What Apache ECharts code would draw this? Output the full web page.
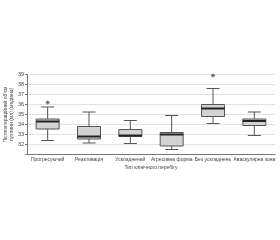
<!DOCTYPE html>
<html><head><meta charset="utf-8">
<script src="https://cdn.jsdelivr.net/npm/echarts@6/dist/echarts.min.js"></script>
<style>html,body{margin:0;padding:0;background:#fff}#c{width:280px;height:240px}</style>
</head><body><div id="c"></div>
<script>
var categories = ['Прогресуючий','Реактивація','Ускладнений','Агресивна форма','Без ускладнень','Аваскулярна зона'];
var lowWhisker = [32.4, 32.15, 32.1, 31.5, 34.1, 32.9];
var q1 =         [33.55, 32.55, 32.8, 31.85, 34.8, 33.9];
var medians =    [34.3, 32.8, 32.9, 33.0, 35.6, 34.35];
var q3 =         [34.55, 33.8, 33.5, 33.2, 36.0, 34.55];
var highWhisker =[35.75, 35.25, 34.4, 34.9, 37.6, 35.25];
var outliers = [[0, 36.2], [4, 38.9]];
var yTicks = [32, 33, 34, 35, 36, 37, 38, 39];

var boxData = categories.map(function(c, i){ return [i, lowWhisker[i], q1[i], medians[i], q3[i], highWhisker[i]]; });

var chart = echarts.init(document.getElementById('c'), null, {renderer:'canvas'});
var font = '"Liberation Sans", Arial, sans-serif';
chart.setOption({
  animation: false,
  grid: {left: 27, right: 5, top: 74.5, bottom: 85.5, containLabel: false, outerBoundsMode: 'none'},
  xAxis: {
    type: 'category', data: categories,
    name: 'Тип клінічного перебігу', nameLocation: 'middle', nameGap: 11, nameMoveOverlap: false,
    nameTextStyle: {fontSize: 5, color: '#444', fontFamily: font},
    axisLine: {lineStyle: {color: '#777', width: 1}},
    axisTick: {alignWithLabel: true, length: 2, lineStyle: {color: '#777'}},
    axisLabel: {fontSize: 5, color: '#444', fontFamily: font, margin: 3, interval: 0, hideOverlap: false},
    splitLine: {show: false}
  },
  yAxis: {
    type: 'value', min: 31, max: 39, interval: 1,
    name: 'Післяопераційний об\'єм\nпухлини (мл) (медіана)', nameLocation: 'middle', nameGap: 12, nameRotate: 90, nameMoveOverlap: false,
    nameTextStyle: {fontSize: 5, color: '#444', fontFamily: font, lineHeight: 6},
    axisLine: {show: true, lineStyle: {color: '#777', width: 1}},
    axisTick: {show: true, length: 2, lineStyle: {color: '#777'}},
    axisLabel: {fontSize: 5.5, color: '#444', fontFamily: font, margin: 3,
      formatter: function(v){ return yTicks.indexOf(v) >= 0 ? String(v) : ''; }},
    splitLine: {show: true, lineStyle: {color: '#e2e2e2', width: 1}}
  },
  series: [{
    type: 'custom',
    data: boxData,
    renderItem: function(params, api){
      var x = api.value(0);
      var pLow = api.coord([x, api.value(1)]);
      var pQ1 = api.coord([x, api.value(2)]);
      var pMed = api.coord([x, api.value(3)]);
      var pQ3 = api.coord([x, api.value(4)]);
      var pHigh = api.coord([x, api.value(5)]);
      var cx = pLow[0];
      var bw = 23, cw = 13;
      var stroke = {stroke: '#555', lineWidth: 1, fill: null};
      return {type: 'group', children: [
        {type: 'line', shape: {x1: cx, y1: pHigh[1], x2: cx, y2: pQ3[1]}, style: stroke},
        {type: 'line', shape: {x1: cx, y1: pQ1[1], x2: cx, y2: pLow[1]}, style: stroke},
        {type: 'line', shape: {x1: cx - cw/2, y1: pHigh[1], x2: cx + cw/2, y2: pHigh[1]}, style: stroke},
        {type: 'line', shape: {x1: cx - cw/2, y1: pLow[1], x2: cx + cw/2, y2: pLow[1]}, style: stroke},
        {type: 'rect', shape: {x: cx - bw/2, y: pQ3[1], width: bw, height: pQ1[1] - pQ3[1]},
          style: {fill: '#d3d3d3', stroke: '#555', lineWidth: 1}},
        {type: 'line', shape: {x1: cx - bw/2, y1: pMed[1], x2: cx + bw/2, y2: pMed[1]},
          style: {stroke: '#222', lineWidth: 2}}
      ]};
    }
  }, {
    type: 'scatter',
    data: outliers,
    symbol: 'path://M5,0L5,10M0,5L10,5M1.5,1.5L8.5,8.5M8.5,1.5L1.5,8.5',
    symbolSize: 4,
    itemStyle: {color: 'none', borderColor: '#555', borderWidth: 1}
  }]
});
</script></body></html>
